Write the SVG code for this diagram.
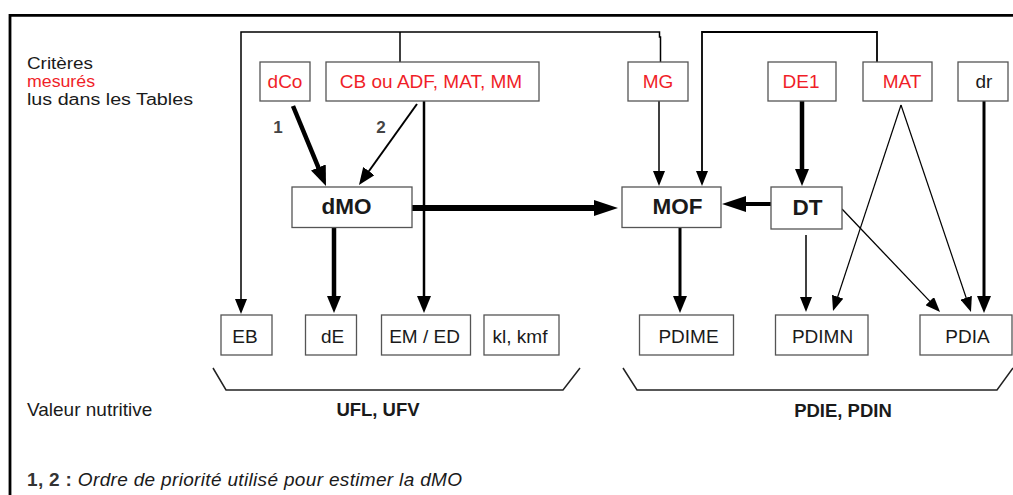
<svg xmlns="http://www.w3.org/2000/svg" width="1013" height="495" viewBox="0 0 1013 495">
  <style>
    .box { fill: #fff; stroke: #555; stroke-width: 1.3; }
    .t { font-family: "Liberation Sans", Arial, sans-serif; font-size: 19px; fill: #1a1a1a; text-anchor: middle; }
    .b { font-weight: bold; font-size: 22.5px; }
    .lbl { font-family: "Liberation Sans", Arial, sans-serif; font-weight: bold; font-size: 17px; fill: #444; text-anchor: middle; }
    .left { font-family: "Liberation Sans", Arial, sans-serif; font-size: 19px; fill: #1a1a1a; }
    .leg { font-size: 16px; }
    .sum { font-family: "Liberation Sans", Arial, sans-serif; font-weight: bold; font-size: 18.5px; fill: #1a1a1a; text-anchor: middle; }
    .red { fill: #f01e28; }
    .ln { fill: none; stroke: #000; }
    .br { fill: none; stroke: #222; stroke-width: 1.5; }
  </style>
  <defs>
    <marker id="ah" markerUnits="userSpaceOnUse" markerWidth="15" markerHeight="12" refX="1" refY="6" orient="auto">
      <path d="M0,0 L15,6 L0,12 z" fill="#000"/>
    </marker>
    <marker id="ahM" markerUnits="userSpaceOnUse" markerWidth="17" markerHeight="14" refX="1" refY="7" orient="auto">
      <path d="M0,0 L17,7 L0,14 z" fill="#000"/>
    </marker>
    <marker id="ahB" markerUnits="userSpaceOnUse" markerWidth="20" markerHeight="16" refX="1" refY="8" orient="auto">
      <path d="M0,0 L20,8 L0,16 z" fill="#000"/>
    </marker>
    <marker id="ahL" markerUnits="userSpaceOnUse" markerWidth="24" markerHeight="16" refX="1" refY="8" orient="auto">
      <path d="M0,0 L24,8 L0,16 z" fill="#000"/>
    </marker>
  </defs>

  <rect width="1013" height="495" fill="#fff"/>

  <!-- frame -->
  <path d="M1013,15.3 H10 V495" fill="none" stroke="#000" stroke-width="2.8"/>

  <!-- legend -->
  <g id="legend">
    <text class="left leg" x="27" y="69" textLength="66" lengthAdjust="spacingAndGlyphs">Critères</text>
    <text class="left leg red" x="27" y="87" textLength="68" lengthAdjust="spacingAndGlyphs">mesurés</text>
    <text class="left leg" x="27" y="105" textLength="166" lengthAdjust="spacingAndGlyphs">lus dans les Tables</text>
    <text class="left" x="27" y="416">Valeur nutritive</text>
    <text class="left" x="27" y="486" textLength="435"><tspan font-weight="bold" fill="#333">1, 2 :</tspan><tspan font-style="italic"> Ordre de priorité utilisé pour estimer la dMO</tspan></text>
  </g>

  <!-- connectors -->
  <g id="connectors">
    <path class="ln" stroke-width="1.5" d="M660.5,62 V37 H659.5 V32 H241 V300" marker-end="url(#ah)"/>
    <path class="ln" stroke-width="1.5" d="M400,32 V62"/>
    <path class="ln" stroke-width="1.8" d="M877,62 V32 H702 V172" marker-end="url(#ah)"/>
    <path class="ln" stroke-width="1.5" d="M659,101 V172" marker-end="url(#ah)"/>
    <path class="ln" stroke-width="4.5" d="M293,106 L318.75,168.4" marker-end="url(#ahB)"/>
    <path class="ln" stroke-width="2" d="M417,104 L368.3,172" marker-end="url(#ahM)"/>
    <path class="ln" stroke-width="2.5" d="M424,101 V297" marker-end="url(#ahM)"/>
    <path class="ln" stroke-width="4.5" d="M334,228 V297" marker-end="url(#ahM)"/>
    <path class="ln" stroke-width="6" d="M412,208 H595" marker-end="url(#ahL)"/>
    <path class="ln" stroke-width="4" d="M771,204 H745" marker-end="url(#ahL)"/>
    <path class="ln" stroke-width="3" d="M680,228 V297" marker-end="url(#ahM)"/>
    <path class="ln" stroke-width="4.5" d="M802,101 V170" marker-end="url(#ahM)"/>
    <path class="ln" stroke-width="1.5" d="M806,235 V298" marker-end="url(#ah)"/>
    <path class="ln" stroke-width="1.2" d="M901,105 L837.4,297.7" marker-end="url(#ah)"/>
    <path class="ln" stroke-width="1.2" d="M901,105 L966.5,298.7" marker-end="url(#ah)"/>
    <path class="ln" stroke-width="1.3" d="M842,209 L930.4,301.9" marker-end="url(#ah)"/>
    <path class="ln" stroke-width="3" d="M984,101 V297" marker-end="url(#ahM)"/>
    <text class="lbl" x="278" y="133">1</text>
    <text class="lbl" x="381" y="133">2</text>
  </g>

  <!-- measured / table criteria -->
  <g id="dCo"><rect class="box" x="260" y="62" width="50" height="39"/><text class="t red" x="285" y="88">dCo</text></g>
  <g id="cb"><rect class="box" x="326" y="62" width="213" height="39"/><text class="t red" x="431" y="88">CB ou ADF, MAT, MM</text></g>
  <g id="MG"><rect class="box" x="628" y="62" width="60" height="39"/><text class="t red" x="658" y="88">MG</text></g>
  <g id="DE1"><rect class="box" x="768" y="62" width="68" height="39"/><text class="t red" x="801" y="88">DE1</text></g>
  <g id="MAT"><rect class="box" x="863" y="62" width="69" height="39"/><text class="t red" x="902" y="88">MAT</text></g>
  <g id="dr"><rect class="box" x="958" y="62" width="50" height="39"/><text class="t" x="984" y="88">dr</text></g>

  <!-- intermediate values -->
  <g id="dMO"><rect class="box" x="292" y="187" width="120" height="40.5"/><text class="t b" x="346.5" y="214">dMO</text></g>
  <g id="MOF"><rect class="box" x="622" y="187" width="99" height="40.5"/><text class="t b" x="677.5" y="214">MOF</text></g>
  <g id="DT"><rect class="box" x="771" y="187" width="71" height="42"/><text class="t b" x="807.5" y="215">DT</text></g>

  <!-- results -->
  <g id="EB"><rect class="box" x="221" y="315" width="51" height="40"/><text class="t" x="245" y="343">EB</text></g>
  <g id="dE"><rect class="box" x="305.5" y="315" width="51" height="40"/><text class="t" x="332.5" y="343">dE</text></g>
  <g id="EMED"><rect class="box" x="381.5" y="315" width="89" height="40"/><text class="t" x="424.5" y="343">EM / ED</text></g>
  <g id="klkmf"><rect class="box" x="484" y="315" width="75" height="40"/><text class="t" x="520" y="343">kl, kmf</text></g>
  <g id="PDIME"><rect class="box" x="639.5" y="315" width="94" height="40"/><text class="t" x="688.5" y="343">PDIME</text></g>
  <g id="PDIMN"><rect class="box" x="775.5" y="315" width="92.5" height="40"/><text class="t" x="822.5" y="343">PDIMN</text></g>
  <g id="PDIA"><rect class="box" x="920" y="315" width="92" height="40"/><text class="t" x="967.5" y="343">PDIA</text></g>

  <!-- groupings -->
  <g id="ufl">
    <path class="br" d="M213,368 L226,390 H563 L580,368"/>
    <text class="sum" x="378" y="416">UFL, UFV</text>
  </g>
  <g id="pdi">
    <path class="br" d="M623,368 L637,390 H997 L1013,368"/>
    <text class="sum" x="843" y="416.5">PDIE, PDIN</text>
  </g>
</svg>
